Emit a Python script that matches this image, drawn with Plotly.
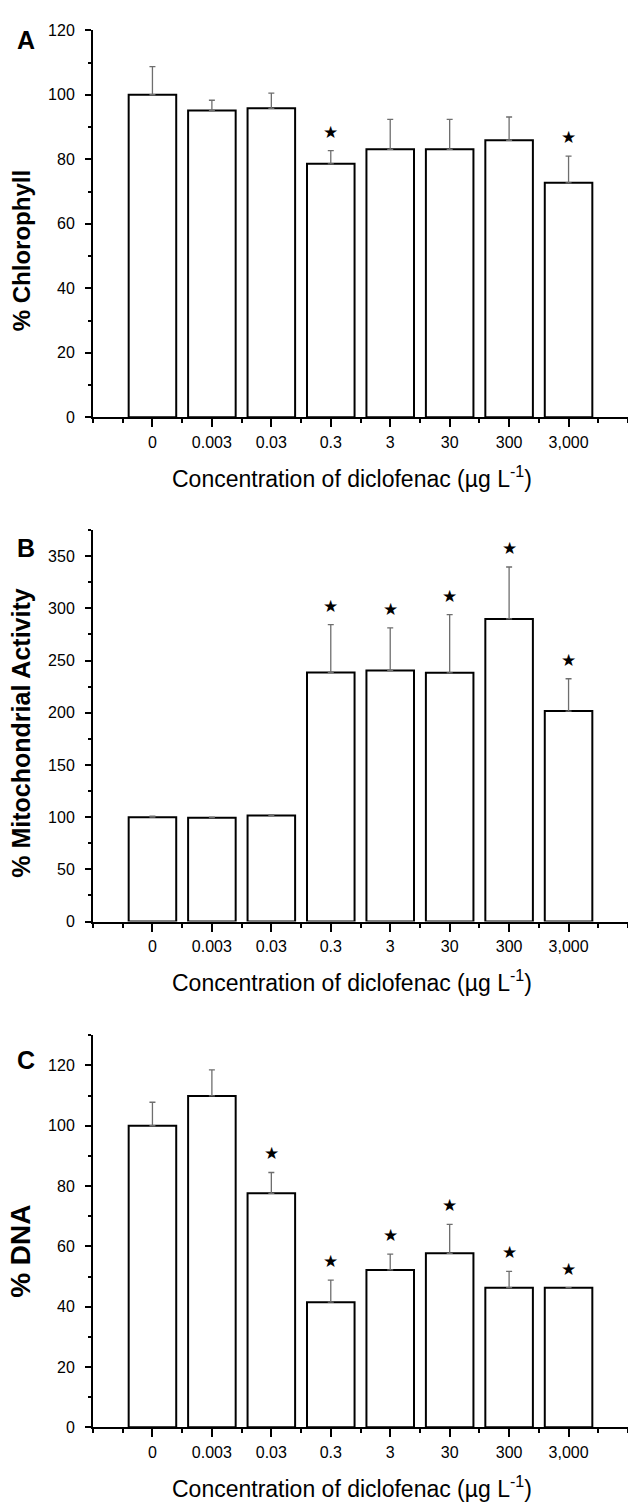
import plotly.graph_objects as go

# ---------------- data ----------------
categories = ["0", "0.003", "0.03", "0.3", "3", "30", "300", "3,000"]

chlorophyll = [100, 95.1, 95.8, 78.6, 83.1, 83.1, 85.9, 72.7]
chlorophyll_err = [8.7, 3.2, 4.7, 4.1, 9.3, 9.3, 7.2, 8.3]
chlorophyll_sig = [0, 0, 0, 1, 0, 0, 0, 1]

mito = [100, 99.5, 101.5, 238.6, 240.5, 238.3, 289.9, 201.6]
mito_err = [1.0, 0.5, 1.0, 45.9, 40.8, 55.7, 49.7, 31.0]
mito_sig = [0, 0, 0, 1, 1, 1, 1, 1]

dna = [100, 109.9, 77.6, 41.5, 52.2, 57.7, 46.3, 46.3]
dna_err = [7.8, 8.6, 6.9, 7.3, 5.2, 9.6, 5.4, 0]
dna_sig = [0, 0, 1, 1, 1, 1, 1, 1]

panel_letters = ["A", "B", "C"]
y_titles = ["% Chlorophyll", "% Mitochondrial Activity", "% DNA"]
x_title = "Concentration of diclofenac (µg L<sup>-1</sup>)"

# ---------------- layout helpers ----------------
W, H = 628, 1508
ML, MR, MT, MB = 93, 0, 0, 0
FONT = "Liberation Sans, Arial, sans-serif"
positions = list(range(1, len(categories) + 1))


def py(px):
    return 1 - (px - MT) / (H - MT - MB)


def pxx(px):
    return (px - ML) / (W - ML - MR)


panels = [
    dict(vals=chlorophyll, err=chlorophyll_err, sig=chlorophyll_sig,
         top=22.5, bottom=414, yrange=[0, 120], dtick=20, minor=10,
         letter_y=32, title_y=246, title_size=24),
    dict(vals=mito, err=mito_err, sig=mito_sig,
         top=528, bottom=924, yrange=[0, 375], dtick=50, minor=25,
         letter_y=546, title_y=734, title_size=25),
    dict(vals=dna, err=dna_err, sig=dna_sig,
         top=1039, bottom=1435.5, yrange=[0, 130], dtick=20, minor=10,
         letter_y=1064, title_y=1258, title_size=28),
]

fig = go.Figure()
annotations = []
layout = dict(
    width=W, height=H,
    margin=dict(l=ML, r=MR, t=MT, b=MB),
    paper_bgcolor="white", plot_bgcolor="white",
    showlegend=False,
    font=dict(family=FONT, color="black", size=16),
)

for i, p in enumerate(panels):
    n = i + 1
    xa = "x" if n == 1 else f"x{n}"
    ya = "y" if n == 1 else f"y{n}"
    xkey = "xaxis" if n == 1 else f"xaxis{n}"
    ykey = "yaxis" if n == 1 else f"yaxis{n}"

    fig.add_trace(go.Bar(
        x=positions, y=p["vals"], xaxis=xa, yaxis=ya, width=0.8,
        marker=dict(color="white", line=dict(color="black", width=2)),
        error_y=dict(type="data", symmetric=False, array=p["err"],
                     arrayminus=[0] * len(p["err"]),
                     color="#6e6e6e", thickness=1.3, width=3,
                     visible=True),
    ))

    layout[xkey] = dict(
        domain=[0, 1], anchor=ya, range=[0, 9],
        tickmode="array", tickvals=positions, ticktext=categories,
        showline=True, linecolor="black", linewidth=2,
        ticks="outside", ticklen=8, tickwidth=2, tickcolor="black",
        tickfont=dict(size=16, family=FONT, color="black"),
        ticklabelstandoff=1,
        minor=dict(ticks="outside", ticklen=4, tickwidth=2, tickcolor="black",
                   tickmode="linear", tick0=0, dtick=0.5),
        showgrid=False, zeroline=False, fixedrange=True,
    )
    layout[ykey] = dict(
        domain=[py(p["bottom"]), py(p["top"])], anchor=xa,
        range=p["yrange"], dtick=p["dtick"], tick0=0,
        showline=True, linecolor="black", linewidth=2,
        ticks="outside", ticklen=6, tickwidth=2, tickcolor="black",
        tickfont=dict(size=16, family=FONT, color="black"),
        ticklabelstandoff=7,
        minor=dict(ticks="outside", ticklen=3, tickwidth=2, tickcolor="black",
                   dtick=p["minor"], tick0=0),
        showgrid=False, zeroline=False, fixedrange=True,
    )

    # significance stars
    for xpos, v, e, s in zip(positions, p["vals"], p["err"], p["sig"]):
        if s:
            annotations.append(dict(
                x=xpos, y=v + e, xref=xa, yref=ya, text="★",
                showarrow=False, yshift=19, yanchor="middle",
                font=dict(size=17, color="black", family="DejaVu Sans"),
            ))

    # panel letter
    annotations.append(dict(
        x=pxx(26), y=py(p["letter_y"]), xref="paper", yref="paper",
        text=f"<b>{panel_letters[i]}</b>", showarrow=False,
        xanchor="center", yanchor="middle",
        font=dict(size=25, family=FONT, color="black"),
    ))
    # y-axis title
    annotations.append(dict(
        x=pxx(21), y=py(p["title_y"]), xref="paper", yref="paper",
        text=f"<b>{y_titles[i]}</b>", showarrow=False, textangle=-90,
        xanchor="center", yanchor="middle",
        font=dict(size=p["title_size"], family=FONT, color="black"),
    ))
    # x-axis title
    annotations.append(dict(
        x=pxx(352), y=py(p["bottom"] + 60), xref="paper", yref="paper",
        text=x_title, showarrow=False,
        xanchor="center", yanchor="middle",
        font=dict(size=23, family=FONT, color="black"),
    ))

layout["annotations"] = annotations
fig.update_layout(**layout)
fig.write_html("out.html")
